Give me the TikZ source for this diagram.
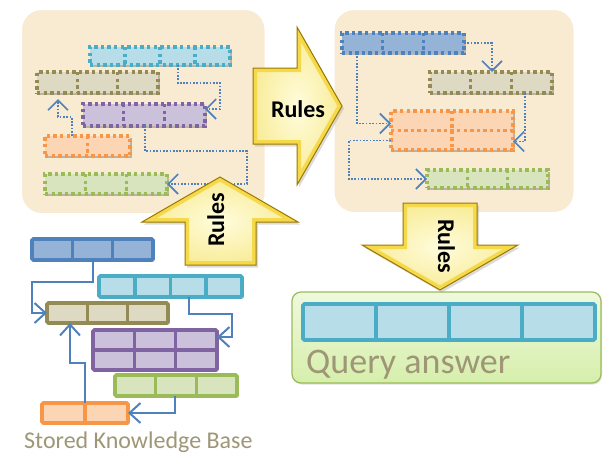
\documentclass[tikz,border=0pt]{standalone}
\usepackage{fontspec}
\setmainfont{Carlito}
\usetikzlibrary{arrows.meta,calc,shadows}
\definecolor{cyanD}{HTML}{4BACC6}\definecolor{cyanL}{HTML}{B7DEE8}
\definecolor{oliveD}{HTML}{948A54}\definecolor{oliveL}{HTML}{DDD9C3}
\definecolor{purpD}{HTML}{8064A2}\definecolor{purpL}{HTML}{CCC1DA}
\definecolor{orgD}{HTML}{F79646}\definecolor{orgL}{HTML}{FCD5B5}
\definecolor{grnD}{HTML}{9BBB59}\definecolor{grnL}{HTML}{D7E4BD}
\definecolor{bluD}{HTML}{4F81BD}\definecolor{bluL}{HTML}{95B3D7}
\definecolor{panelC}{HTML}{F9EBD2}
\definecolor{txtC}{HTML}{9E9676}
\definecolor{goldD}{HTML}{9A7800}\definecolor{goldM}{HTML}{F5D94A}
\definecolor{goldL}{HTML}{FFFCDC}\definecolor{goldO}{HTML}{F8EC98}
\definecolor{qTop}{HTML}{EFF8DE}\definecolor{qBot}{HTML}{D6EFAB}
\tikzset{
  solidbox/.style 2 args={draw=#1, fill=#2, line width=3.6pt, rounded corners=1.5pt, outer sep=0pt, inner sep=0pt},
  dotbox/.style 2 args={draw=#1, fill=#2, line width=3.4pt, dash pattern=on 3.4pt off 3.2pt, outer sep=0pt, inner sep=0pt},
  boxshadow/.style={drop shadow={shadow xshift=1.8pt, shadow yshift=-1.8pt, opacity=0.35, fill=black!70}},
  panel/.style={fill=panelC, draw=white, line width=5pt, rounded corners=22pt, outer sep=0pt,
    drop shadow={shadow xshift=1pt, shadow yshift=-1.5pt, opacity=0.18, fill=black!60}},
  dotarrow/.style={draw=bluD, line width=1.7pt, dash pattern=on 1.7pt off 1.6pt,
    -{Straight Barb[length=10pt,width=20pt,line width=1.6pt]}},
  kbarrow/.style={draw=bluD, line width=2pt, -{Straight Barb[length=11pt,width=20pt]}},
  rulestxt/.style={font=\fontsize{24}{24}\selectfont\bfseries, text=black, inner sep=0pt},
  bigtxt/.style={text=txtC, inner sep=0pt},
  qbox/.style={draw=grnD, line width=1.2pt, rounded corners=9pt, top color=qTop, bottom color=qBot,
    outer sep=0pt, drop shadow={shadow xshift=1pt, shadow yshift=-1.5pt, opacity=0.2, fill=black!60}}
}
% [extra], style, name, x1, y1, x2, y2, columns, rows
\newcommand\gridbox[9][]{%
  \node[#2, #1, anchor=north west, minimum width={(#6-#4)*1pt}, minimum height={(#7-#5)*1pt}] (#3) at (#4,#5) {};
  \pgfmathtruncatemacro\gbcols{#8-1}%
  \foreach \gi in {1,...,\gbcols}{%
    \draw[#2, fill=none] ($(#3.north west)!{\gi/#8}!(#3.north east)$) -- ($(#3.south west)!{\gi/#8}!(#3.south east)$);}%
  \ifnum#9>1 \draw[#2, fill=none] (#3.west) -- (#3.east);\fi
}
\newcommand\bigarrow[1]{%
  \fill[black!40, opacity=0.35, xshift=2pt, yshift=-2.5pt] #1;
  \shade[inner color=goldL, outer color=goldO] #1;
  \begin{scope}\clip #1; \draw[goldM, line width=8pt, line join=miter] #1;\end{scope}
  \draw[goldD, line width=1pt, line join=miter] #1;
}
\begin{document}
\begin{tikzpicture}[x=1pt, y=-1pt]
\useasboundingbox (0,0) rectangle (603,453);
% panels
\node[panel, anchor=north west, minimum width=247.5pt, minimum height=208pt] (Lpanel) at (19.5,7.5) {};
\node[panel, anchor=north west, minimum width=244pt, minimum height=207pt] (Rpanel) at (332,7.5) {};
% left panel boxes
\gridbox[boxshadow]{dotbox={cyanD}{cyanL}}{Lcyan}{90}{47}{230}{65}{4}{1}
\gridbox[boxshadow]{dotbox={oliveD}{oliveL}}{Lolive}{37}{72}{158}{93}{3}{1}
\gridbox[boxshadow]{dotbox={purpD}{purpL}}{Lpurple}{83}{104}{205}{126}{3}{1}
\gridbox[boxshadow]{dotbox={orgD}{orgL}}{Lorange}{45}{136}{130}{156}{2}{1}
\gridbox[boxshadow]{dotbox={grnD}{grnL}}{Lgreen}{45}{174}{167}{194}{3}{1}
\draw[dotarrow] ([xshift=88pt]Lcyan.south west) -- ++(0,18) -| (220,109) -- ([yshift=6pt]Lpurple.east);
\draw[dotarrow] ([xshift=27pt]Lorange.north west) -- ++(0,-19) -| ([xshift=21pt,yshift=-6pt]Lolive.south west);
\draw[dotarrow] ([xshift=62pt]Lpurple.south west) -- ++(0,25) -| (247,184) -- (Lgreen.east);
% right panel boxes
\gridbox[boxshadow]{dotbox={bluD}{bluL}}{Rblue}{342}{33}{464}{53}{3}{1}
\gridbox[boxshadow]{dotbox={oliveD}{oliveL}}{Rolive}{430}{72}{552}{93}{3}{1}
\gridbox[boxshadow]{dotbox={orgD}{orgL}}{Rorange}{391}{111}{513}{150}{2}{2}
\gridbox[boxshadow]{dotbox={grnD}{grnL}}{Rgreen}{427}{170}{548}{188}{3}{1}
\draw[dotarrow] (Rblue.east) -| ([xshift=62pt]Rolive.north west);
\draw[dotarrow] ([xshift=15pt]Rblue.south west) |- ([yshift=7pt]Rorange.west);
\draw[dotarrow] ([xshift=95pt]Rolive.south west) |- ([yshift=-11pt]Rorange.east);
\draw[dotarrow] ([yshift=-10pt]Rorange.west) -| (349,179) -- (Rgreen.west);
% stored knowledge base
\gridbox[boxshadow]{solidbox={bluD}{bluL}}{Kblue}{32}{239}{153}{260}{3}{1}
\gridbox[boxshadow]{solidbox={cyanD}{cyanL}}{Kcyan}{99}{276}{242}{297}{4}{1}
\gridbox[boxshadow]{solidbox={oliveD}{oliveL}}{Kolive}{47}{303}{168}{323}{3}{1}
\gridbox[boxshadow]{solidbox={purpD}{purpL}}{Kpurple}{93}{330}{217}{370}{3}{2}
\gridbox[boxshadow]{solidbox={grnD}{grnL}}{Kgreen}{115}{375}{237}{396}{3}{1}
\gridbox[boxshadow]{solidbox={orgD}{orgL}}{Korange}{42}{403}{128}{423}{2}{1}
\draw[kbarrow] ([xshift=61pt]Kblue.south west) -- ++(0,22) -| (32,313) -- (Kolive.west);
\draw[kbarrow] ([xshift=90pt]Kcyan.south west) -- ++(0,17) -| (232,337) -- ([yshift=13pt]Kpurple.east);
\draw[kbarrow] ([xshift=43pt]Korange.north west) -- ++(0,-40) -| ([xshift=23pt]Kolive.south west);
\draw[kbarrow] ([xshift=60pt]Kgreen.south west) |- (Korange.east);
\node[bigtxt, anchor=base west, font=\fontsize{24}{24}\selectfont] (kbtxt) at (24,448) {Stored Knowledge Base};
% query answer
\node[qbox, anchor=north west, minimum width=309pt, minimum height=91pt] (Qbox) at (292,292) {};
\gridbox{solidbox={cyanD}{cyanL}}{Qbar}{303}{304}{595}{340}{4}{1}
\node[bigtxt, anchor=base west, font=\fontsize{36}{36}\selectfont] (qtxt) at (306,373) {Query answer};
% big Rules arrows
\bigarrow{(253,68) -- (297,68) -- (297,27) -- (342,106) -- (297,185) -- (297,144) -- (253,144) -- cycle}
\node[rulestxt, anchor=base] (rulesR) at (298,117) {Rules};
\bigarrow{(185,265) -- (185,222) -- (142,222) -- (220,177) -- (298,222) -- (256,222) -- (256,265) -- cycle}
\node[rulestxt, anchor=base, rotate=90] (rulesU) at (224,220) {Rules};
\bigarrow{(403,203) -- (477,203) -- (477,245) -- (518,245) -- (440,290) -- (362,245) -- (403,245) -- cycle}
\node[rulestxt, anchor=base, rotate=-90] (rulesD) at (438,246) {Rules};
\end{tikzpicture}
\end{document}
